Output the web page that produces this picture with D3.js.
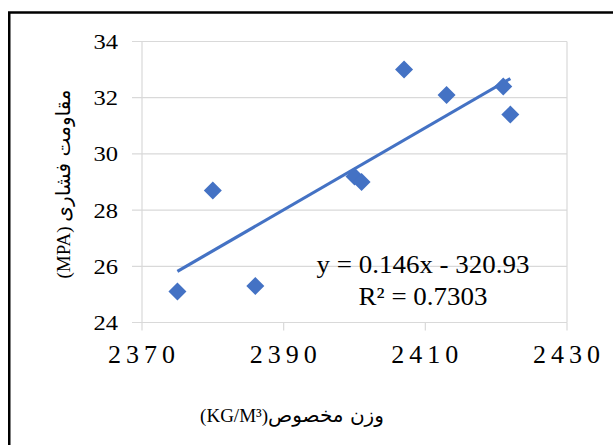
<!DOCTYPE html>
<html>
<head>
<meta charset="utf-8">
<script src="https://cdn.jsdelivr.net/npm/d3@7"></script>
<style>
  html, body { margin: 0; padding: 0; background: #fff; overflow: hidden; }
  svg { display: block; }
</style>
</head>
<body>
<script>
// ---- data ----
const density = [2375, 2380, 2386, 2400, 2401, 2407, 2413, 2421, 2422];
const strength = [25.1, 28.7, 25.3, 29.2, 29.0, 33.0, 32.1, 32.4, 31.4];
const xTicks = [2370, 2390, 2410, 2430];
const yTicks = [24, 26, 28, 30, 32, 34];
const trendSlope = 0.146;
const trendIntercept = -320.93;
const equationLabel = "y = 0.146x - 320.93";
const r2Label = ["R", "²", " = 0.7303"];
const yTitleLatin = "(MPA) ";
const yTitleArabic = "مقاومت فشاری";
const xTitleLatin = "(KG/M³)";
const xTitleArabic = "وزن مخصوص";

const W = 613, H = 445;
const blue = "#4472C4";
const grid = "#d9d9d9";
const serif = "'Liberation Serif', 'Times New Roman', serif";
const arab = "'DejaVu Sans', sans-serif";

const svg = d3.select("body").append("svg").attr("width", W).attr("height", H);
svg.append("rect").attr("width", W).attr("height", H).attr("fill", "#fff");

// outer frame
svg.append("rect").attr("x", 9.25).attr("y", 12.5).attr("width", 700).attr("height", 600)
  .attr("fill", "none").attr("stroke", "#000").attr("stroke-width", 2.5);

const x = d3.scaleLinear().domain([2370, 2430]).range([142, 567]);
const y = d3.scaleLinear().domain([24, 34]).range([322.5, 41.5]);

// horizontal gridlines (extend left as ticks)
svg.append("g").selectAll("line").data(yTicks).join("line")
  .attr("x1", x(2370) - 10).attr("x2", x(2430))
  .attr("y1", d => y(d)).attr("y2", d => y(d))
  .attr("stroke", grid).attr("stroke-width", 1.2);

// left and right vertical lines
svg.append("g").selectAll("line").data([xTicks[0], xTicks[xTicks.length - 1]]).join("line")
  .attr("x1", d => x(d)).attr("x2", d => x(d))
  .attr("y1", y(34)).attr("y2", y(24))
  .attr("stroke", grid).attr("stroke-width", 1.2);

// x ticks below axis
svg.append("g").selectAll("line").data(xTicks).join("line")
  .attr("x1", d => x(d)).attr("x2", d => x(d))
  .attr("y1", y(24)).attr("y2", y(24) + 8)
  .attr("stroke", grid).attr("stroke-width", 1.2);

// y tick labels
svg.append("g").selectAll("text").data(yTicks).join("text")
  .attr("transform", d => `translate(118,${y(d) + 7.5}) scale(1.17,1)`)
  .attr("text-anchor", "end")
  .attr("font-family", serif).attr("font-size", 21).attr("fill", "#000")
  .text(d => d);

// x tick labels
svg.append("g").selectAll("text").data(xTicks).join("text")
  .attr("x", d => x(d) + 2).attr("y", 363)
  .attr("text-anchor", "middle")
  .attr("font-family", serif).attr("font-size", 26).attr("letter-spacing", 5)
  .attr("fill", "#000")
  .text(d => d);

// trendline
const xr = d3.extent(density);
const line = d3.line().x(d => x(d)).y(d => y(trendSlope * d + trendIntercept));
svg.append("path").datum(xr).attr("d", line)
  .attr("fill", "none").attr("stroke", blue).attr("stroke-width", 3.2);

// markers (diamonds)
const r = 9;
const diamond = `M0,${-r}L${r},0L0,${r}L${-r},0Z`;
svg.append("g").selectAll("path").data(density.map((d, i) => [d, strength[i]])).join("path")
  .attr("transform", d => `translate(${x(d[0])},${y(d[1])})`)
  .attr("d", diamond).attr("fill", blue);

// equation labels
svg.append("text")
  .attr("transform", "translate(423,273) scale(1.1,1)")
  .attr("text-anchor", "middle")
  .attr("font-family", serif).attr("font-size", 24.5).attr("fill", "#000")
  .text(equationLabel);
const r2 = svg.append("text")
  .attr("transform", "translate(423,305) scale(1.1,1)")
  .attr("text-anchor", "middle")
  .attr("font-family", serif).attr("font-size", 24.5).attr("fill", "#000");
r2.append("tspan").text(r2Label[0]);
r2.append("tspan").text(r2Label[1]);
r2.append("tspan").text(r2Label[2]);

// y title
const yt = svg.append("text")
  .attr("transform", "translate(70,184) rotate(-90)")
  .attr("text-anchor", "middle").attr("fill", "#000").attr("font-size", 20);
yt.append("tspan").attr("font-family", serif).attr("font-size", 19).text(yTitleLatin);
yt.append("tspan").attr("font-family", arab).text(yTitleArabic);

// x title
const xt = svg.append("text")
  .attr("x", 292).attr("y", 422)
  .attr("text-anchor", "middle").attr("fill", "#000").attr("font-size", 20);
xt.append("tspan").attr("font-family", serif).attr("font-size", 19).text(xTitleLatin);
xt.append("tspan").attr("font-family", arab).text(xTitleArabic);
</script>
</body>
</html>
